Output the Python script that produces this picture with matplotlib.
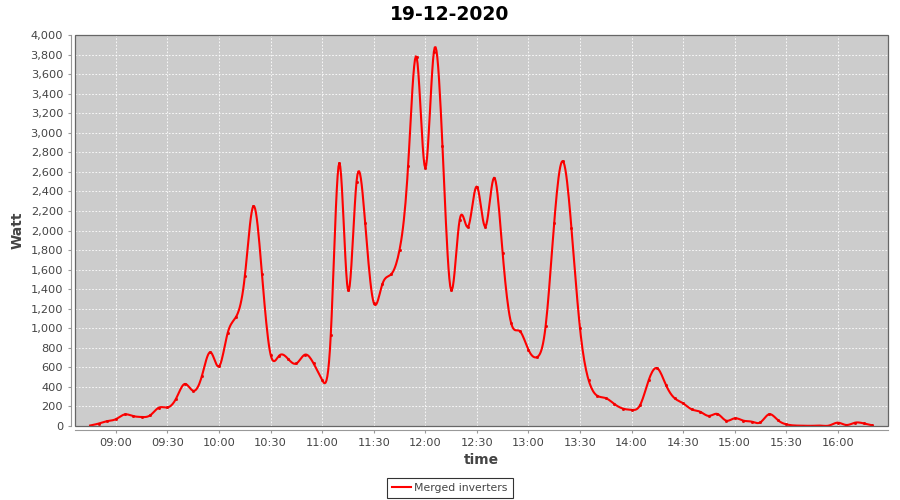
import numpy as np
import pandas as pd
import matplotlib
matplotlib.use('Agg')
import matplotlib.pyplot as plt
from matplotlib.patches import Rectangle
from matplotlib.ticker import FuncFormatter

# Readings every 5 minutes, 08:45 .. 16:20
times = pd.date_range('2020-12-19 08:45', '2020-12-19 16:20', freq='5min')
watts = [5, 25, 50, 70, 118, 102, 92, 110, 188, 190,
         280, 430, 360, 510, 755, 610, 950, 1120, 1530, 2250,
         1550, 730, 720, 690, 640, 730, 640, 470, 930, 2690,
         1390, 2500, 2080, 1260, 1450, 1550, 1800, 2660, 3770, 2640,
         3830, 2860, 1390, 2110, 2040, 2450, 2040, 2540, 1770, 1050,
         970, 780, 705, 1020, 2080, 2710, 2030, 1000, 470, 310,
         285, 225, 178, 165, 215, 470, 590, 420, 285, 232,
         170, 145, 103, 123, 55, 79, 55, 44, 38, 120,
         62, 17, 5, 3, 2, 4, 5, 34, 10, 34,
         27, 7]
tick_labels = ['09:00', '09:30', '10:00', '10:30', '11:00', '11:30', '12:00', '12:30',
               '13:00', '13:30', '14:00', '14:30', '15:00', '15:30', '16:00']
series_name = 'Merged inverters'
title = '19-12-2020'

x = (times.hour * 60 + times.minute).to_numpy(dtype=float)
y = np.array(watts, dtype=float)


# natural cubic spline, like the spline renderer of the original chart
def spline_curve(xs, ys, steps=10):
    n = len(xs)
    h = np.diff(xs)
    A = np.zeros((n, n))
    b = np.zeros(n)
    A[0, 0] = A[-1, -1] = 1
    for i in range(1, n - 1):
        A[i, i - 1] = h[i - 1]
        A[i, i] = 2 * (h[i - 1] + h[i])
        A[i, i + 1] = h[i]
        b[i] = 6 * ((ys[i + 1] - ys[i]) / h[i] - (ys[i] - ys[i - 1]) / h[i - 1])
    m = np.linalg.solve(A, b)
    out_x, out_y = [], []
    for i in range(n - 1):
        t = np.linspace(0, h[i], steps, endpoint=False)
        a = (m[i + 1] - m[i]) / (6 * h[i])
        c = m[i] / 2
        d = (ys[i + 1] - ys[i]) / h[i] - h[i] * (2 * m[i] + m[i + 1]) / 6
        out_x.append(xs[i] + t)
        out_y.append(ys[i] + d * t + c * t ** 2 + a * t ** 3)
    out_x.append([xs[-1]])
    out_y.append([ys[-1]])
    return np.concatenate(out_x), np.concatenate(out_y)


sx, sy = spline_curve(x, y)

fig = plt.figure(figsize=(9, 5), dpi=100)
ax = fig.add_axes([75 / 900, 1 - 426 / 500, 813 / 900, 391 / 500])
ax.set_facecolor('#cccccc')

line, = ax.plot(sx, sy, color='#ff0000', lw=1.5, zorder=3)
ax.plot(x, y, ls='none', marker='s', ms=1.0, color='#ee0000', zorder=3)

ax.set_xlim(516.2, 989.2)
ax.set_ylim(0, 4000)
ax.set_xticks(np.arange(540, 961, 30))
ax.set_xticklabels(tick_labels)
ax.set_yticks(np.arange(0, 4001, 200))
ax.yaxis.set_major_formatter(FuncFormatter(lambda v, p: f'{v:,.0f}'))

ax.grid(True, color='white', ls=(0, (2, 2)), lw=0.6)
ax.set_axisbelow(True)

for s in ['top', 'right']:
    ax.spines[s].set_visible(False)
for s in ['left', 'bottom']:
    ax.spines[s].set_position(('outward', 3))
    ax.spines[s].set_color('#999999')
    ax.spines[s].set_linewidth(0.8)
ax.add_patch(Rectangle((0, 0), 1, 1, transform=ax.transAxes, fill=False,
                       edgecolor='#666666', lw=0.9, clip_on=False, zorder=4))

ax.tick_params(axis='both', colors='#999999', labelcolor='#444444',
               labelsize=8.2, length=2, width=0.8)
ax.tick_params(axis='x', pad=4)

ax.set_xlabel('time', fontsize=10, fontweight='bold', color='#444444', labelpad=3)
ax.set_ylabel('Watt', fontsize=10, fontweight='bold', color='#444444', labelpad=4)
fig.text(0.5, 1 - 14 / 500, title, ha='center', va='center',
         fontsize=13.5, fontweight='bold', color='black')

leg = fig.legend([line], [series_name], loc='center',
                 bbox_to_anchor=(0.5, 1 - 488 / 500), fontsize=7.8,
                 frameon=True, fancybox=False, edgecolor='black',
                 borderpad=0.45, handlelength=1.7, handletextpad=0.35,
                 borderaxespad=0)
leg.get_frame().set_linewidth(0.8)
for t in leg.get_texts():
    t.set_color('#444444')

fig.savefig('out.png', dpi=100)
